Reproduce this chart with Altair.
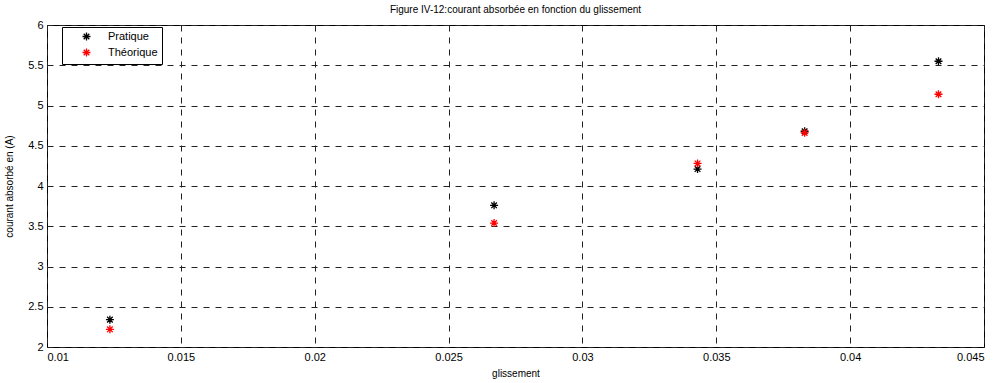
import altair as alt
import pandas as pd

glissement = [0.01235, 0.0267, 0.0343, 0.0383, 0.0433]
pratique = [2.34, 3.76, 4.21, 4.68, 5.55]
theorique = [2.22, 3.54, 4.28, 4.66, 5.14]
series_names = ["Pratique", "Théorique"]
series_colors = ["#000000", "#ff0000"]
x_ticks = [0.01, 0.015, 0.02, 0.025, 0.03, 0.035, 0.04, 0.045]
y_ticks = [2, 2.5, 3, 3.5, 4, 4.5, 5, 5.5, 6]

rows = []
for g, p in zip(glissement, pratique):
    rows.append({"g": g, "v": p, "serie": series_names[0]})
for g, t in zip(glissement, theorique):
    rows.append({"g": g, "v": t, "serie": series_names[1]})
df = pd.DataFrame(rows)

asterisk = "M-1,0L1,0M0,-1L0,1M-0.7,-0.7L0.7,0.7M-0.7,0.7L0.7,-0.7"
FONT = "Liberation Sans"

axis_common = dict(
    grid=True, ticks=False, domain=False, format="~g",
    gridColor="#222222", gridDash=[6, 6], gridOpacity=1, gridWidth=1,
    labelFont=FONT, labelFontSize=11, labelColor="black",
    titleFont=FONT, titleFontSize=10, titleFontWeight="normal", titleColor="black",
    labelPadding=4,
)

chart = alt.Chart(df).mark_point(
    shape=asterisk, filled=False, size=64, strokeWidth=1.3, opacity=1
).encode(
    x=alt.X("g:Q", title="glissement",
            scale=alt.Scale(domain=[0.01, 0.045], nice=False, zero=False),
            axis=alt.Axis(values=x_ticks, titlePadding=6, **axis_common)),
    y=alt.Y("v:Q", title="courant absorbé en (A)",
            scale=alt.Scale(domain=[2, 6], nice=False, zero=False),
            axis=alt.Axis(values=y_ticks, titlePadding=13, **axis_common)),
    color=alt.Color("serie:N", title=None,
                    scale=alt.Scale(domain=series_names, range=series_colors),
                    legend=alt.Legend(orient="none", legendX=15, legendY=2,
                                      strokeColor="black", fillColor="white",
                                      padding=4, symbolOffset=15,
                                      labelOffset=16, rowPadding=1,
                                      symbolStrokeWidth=1.3, symbolSize=64,
                                      labelFont=FONT, labelFontSize=11,
                                      labelColor="black")),
).properties(
    width=937, height=322,
    title=alt.Title("Figure IV-12:courant absorbée en fonction du glissement",
                    font=FONT, fontSize=10, fontWeight="normal", offset=4,
                    color="black"),
    autosize=alt.AutoSizeParams(type="none"),
    padding={"left": 47, "top": 25, "right": 19, "bottom": 36},
    background="white",
).configure_view(
    stroke="black", strokeWidth=1
)

chart.save("out.html", embed_options={"renderer": "svg", "actions": False})
